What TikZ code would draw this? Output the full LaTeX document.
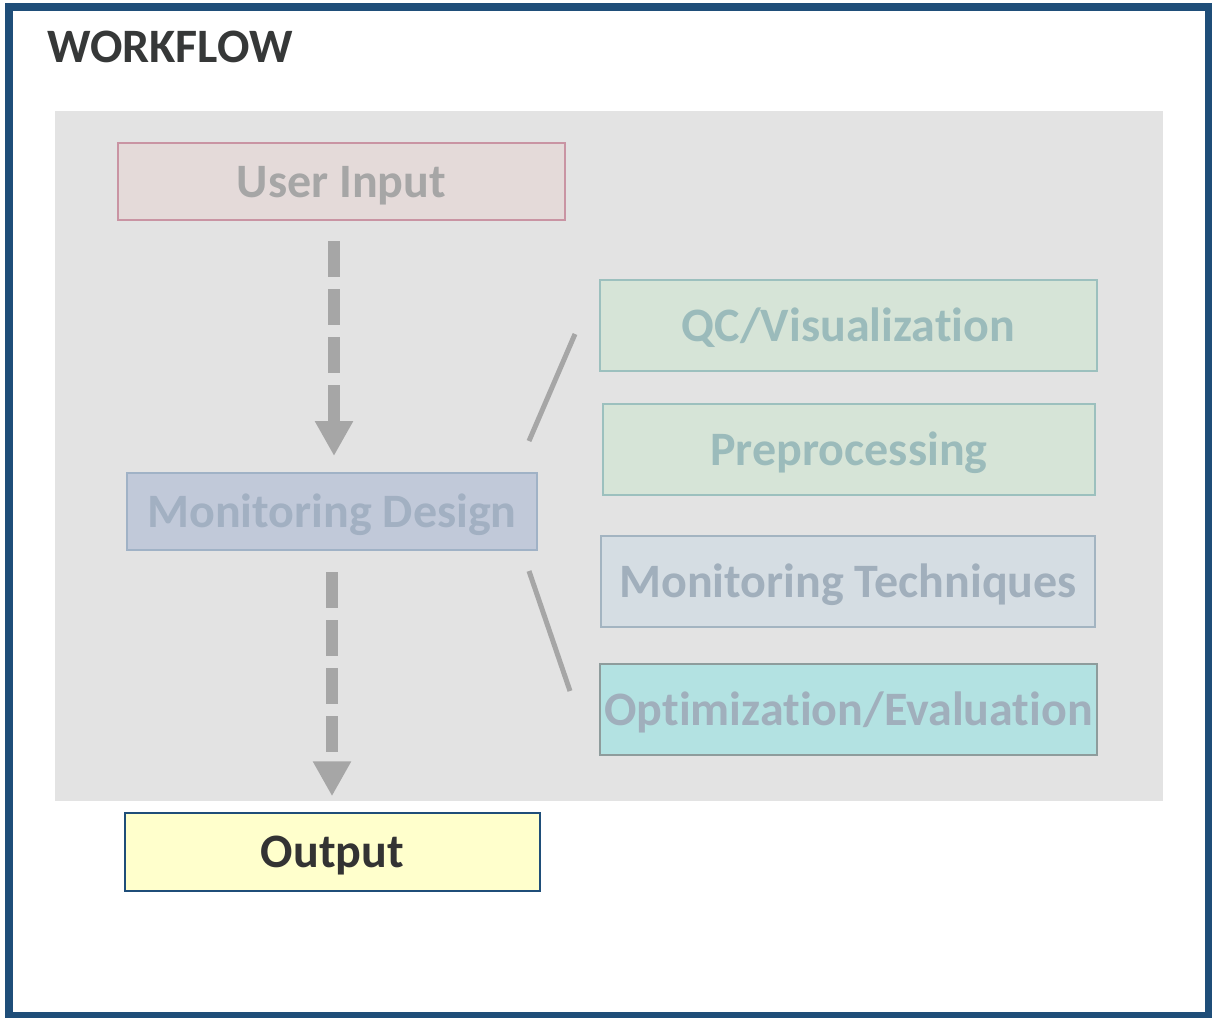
\documentclass[tikz,border=0pt]{standalone}
\usepackage{fontspec}
\setmainfont{Carlito}[RawFeature={-liga;-clig;-dlig}]
\usetikzlibrary{arrows.meta}
\definecolor{frameblue}{HTML}{1F4E79}
\definecolor{panelgray}{HTML}{E3E3E3}
\definecolor{arrgray}{HTML}{A6A6A6}
\definecolor{titlecol}{HTML}{363838}
\definecolor{uifill}{HTML}{E4DAD9}
\definecolor{uidraw}{HTML}{C994A3}
\definecolor{uitext}{HTML}{A6A6A6}
\definecolor{mdfill}{HTML}{C1C9D9}
\definecolor{mddraw}{HTML}{A0B2C6}
\definecolor{mdtext}{HTML}{A2B0C2}
\definecolor{grfill}{HTML}{D6E4D7}
\definecolor{grdraw}{HTML}{9CC0BE}
\definecolor{grtext}{HTML}{9BBBBB}
\definecolor{mtfill}{HTML}{D5DDE3}
\definecolor{mtdraw}{HTML}{A3B4C1}
\definecolor{mttext}{HTML}{A1AFBC}
\definecolor{opfill}{HTML}{B3E2E2}
\definecolor{opdraw}{HTML}{8E9C9C}
\definecolor{optext}{HTML}{A0AFBC}
\definecolor{outfill}{HTML}{FFFFCC}
\definecolor{outtext}{HTML}{333333}
\tikzset{
  box/.style={rectangle, inner sep=0pt, line width=2pt, text height=31pt, text depth=0pt,
     font=\fontsize{48}{52}\selectfont\bfseries},
  flowarrow/.style={draw=arrgray, line width=12pt, dash pattern=on 36pt off 12pt,
     -{Triangle[width=36pt,length=35pt]}},
  link/.style={draw=arrgray, line width=5pt}
}
\begin{document}
\begin{tikzpicture}[x=1pt,y=-1pt]
\useasboundingbox (0,0) rectangle (1212,1017);
\fill[white] (0,0) rectangle (1212,1017);
\fill[panelgray] (55,111) rectangle (1163,801);
\draw[frameblue, line width=8pt] (9,7) rectangle (1209,1016);
\node[anchor=base west, font=\fontsize{48}{52}\selectfont\bfseries, text=titlecol, inner sep=0pt] (title) at (47,62) {WORKFLOW};

\node[box, fill=uifill, draw=uidraw, text=uitext, minimum width=447pt, minimum height=77pt] (ui) at (341.5,181.5) {User Input};
\node[box, fill=mdfill, draw=mddraw, text=mdtext, minimum width=410pt, minimum height=77pt] (md) at (332,511.5) {Monitoring Design};
\node[box, fill=outfill, draw=frameblue, text=outtext, line width=1.5pt, minimum width=415pt, minimum height=78pt] (out) at (332.5,852) {Output};

\node[box, fill=grfill, draw=grdraw, text=grtext, minimum width=497pt, minimum height=91pt] (qc) at (848.5,325.5) {QC/Visualization};
\node[box, fill=grfill, draw=grdraw, text=grtext, minimum width=492pt, minimum height=91pt] (pre) at (849,449.5) {Preprocessing};
\node[box, fill=mtfill, draw=mtdraw, text=mttext, minimum width=494pt, minimum height=91pt] (mt) at (848,581.5) {Monitoring Techniques};
\node[box, fill=opfill, draw=opdraw, text=optext, minimum width=497pt, minimum height=91pt] (op) at (848.5,709.5) {Optimization/Evaluation};

\draw[flowarrow, shorten <=20pt, shorten >=16pt] ([xshift=2pt]md.north |- ui.south) -- ([xshift=2pt]md.north);
\draw[flowarrow, shorten <=21pt, shorten >=16pt] (md.south) -- (md.south |- out.north);

\coordinate (l1a) at (529,441);
\coordinate (l1b) at (575,334);
\coordinate (l2a) at (529,571);
\coordinate (l2b) at (570,691);
\draw[link] (l1a) -- (l1b);
\draw[link] (l2a) -- (l2b);
\end{tikzpicture}
\end{document}
